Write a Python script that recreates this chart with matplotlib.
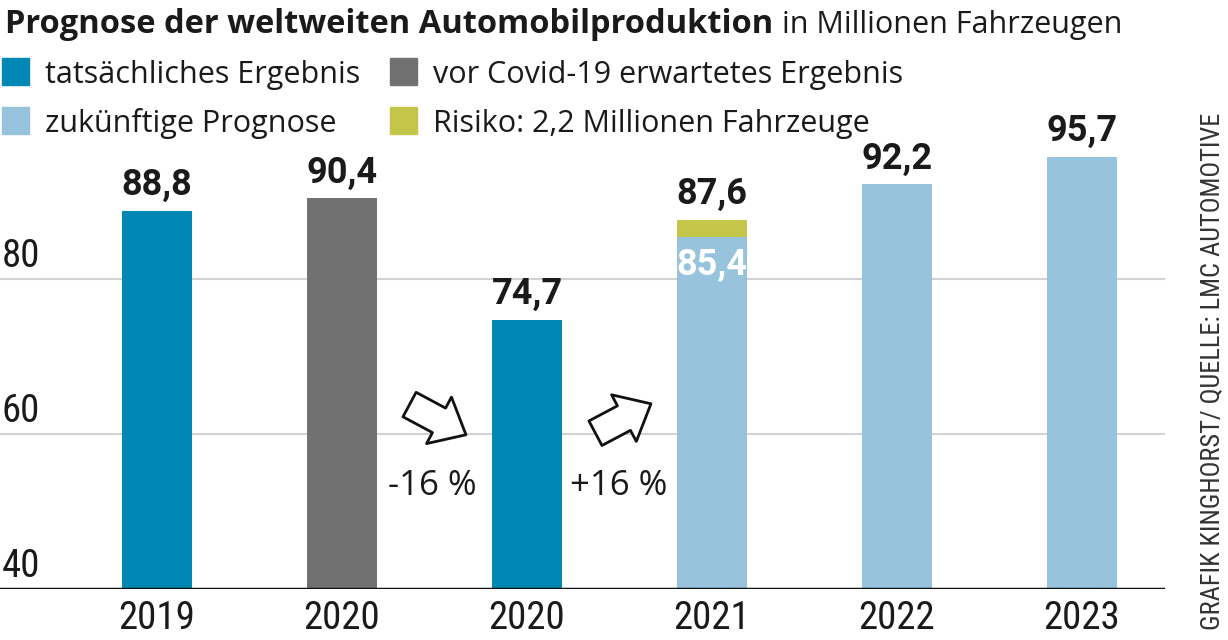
import matplotlib
matplotlib.use('Agg')
import matplotlib.pyplot as plt
from matplotlib import font_manager
from matplotlib.patches import Rectangle, FancyArrowPatch

# pick fonts that are installed
names = {f.name for f in font_manager.fontManager.ttflist}
narrow = 'DejaVu Sans'
for cand in ['Roboto Condensed', 'Liberation Sans Narrow', 'DejaVu Sans Condensed', 'Roboto']:
    if cand in names:
        narrow = cand
        break
wide = 'Open Sans' if 'Open Sans' in names else 'DejaVu Sans'
mid = 'Roboto' if 'Roboto' in names else 'DejaVu Sans'
plt.rcParams['font.family'] = [narrow, 'DejaVu Sans']

# data
years = ['2019', '2020', '2020', '2021', '2022', '2023']
values = [88.8, 90.4, 74.7, 85.4, 92.2, 95.7]
risk = [0, 0, 0, 2.2, 0, 0]
totals = [88.8, 90.4, 74.7, 87.6, 92.2, 95.7]
kinds = ['actual', 'precovid', 'actual', 'forecast', 'forecast', 'forecast']
changes = ['-16 %', '+16 %']

colors = {'actual': '#0088b5', 'precovid': '#717171', 'forecast': '#97c4dc', 'risk': '#c4c64a'}
txt = '#1a1a1a'

fig = plt.figure(figsize=(12.28, 6.40), dpi=100)
ax = fig.add_axes([0, 1 - 589 / 640, 1165 / 1228, 465 / 640])
ax.set_xlim(-157 / 185, (1165 - 157) / 185)
ax.set_ylim(40, 100)

x = list(range(len(years)))
ax.bar(x, [v - 40 for v in values], bottom=40, width=0.378,
       color=[colors[k] for k in kinds], zorder=2)
ax.bar(x, risk, bottom=values, width=0.378, color=colors['risk'], zorder=2)

# grid lines and y labels
for yv in [60, 80]:
    ax.axhline(yv, color='#d2d2d2', lw=1.5, zorder=1)
for yv in [40, 60, 80]:
    ax.annotate(str(yv), (0, yv), xycoords=('axes fraction', 'data'),
                xytext=(1, 8.5), textcoords='offset points',
                ha='left', va='baseline', fontsize=28, color=txt)
ax.axhline(40, color='#111111', lw=2.5, zorder=3)

for s in ax.spines.values():
    s.set_visible(False)
ax.set_yticks([])
ax.set_xticks(x)
ax.set_xticklabels(years, fontsize=28, color=txt)
ax.tick_params(axis='x', length=0, pad=8)

# value labels
for i, t in enumerate(totals):
    ax.annotate(f'{t:.1f}'.replace('.', ','), (i, t), xytext=(0, 11.5),
                textcoords='offset points', ha='center', va='baseline',
                fontsize=26, fontweight='bold', color=txt, family=mid)
ax.annotate('85,4', (3, 85.4), xytext=(0, -7), textcoords='offset points',
            ha='center', va='top', fontsize=26, fontweight='bold', color='white',
            family=mid, zorder=4)

# change arrows
arrows = [((1.365, 63.8), (1.67, 59.9)), ((2.37, 60.1), (2.67, 63.9))]
for (a, b) in arrows:
    ax.add_patch(FancyArrowPatch(a, b, arrowstyle='simple,head_length=22,head_width=38,tail_width=20',
                                 mutation_scale=1, shrinkA=0, shrinkB=0,
                                 fc='white', ec='#111111', lw=2, zorder=5))
ax.text(1.486, 52.1, changes[0], ha='center', va='baseline', fontsize=25, color=txt, family=wide)
ax.text(2.497, 52.1, changes[1], ha='center', va='baseline', fontsize=25, color=txt, family=wide)

# title
t1 = fig.text(5 / 1228, 1 - 33 / 640, 'Prognose der weltweiten Automobilproduktion',
              fontsize=23.5, fontweight='bold', color=txt, va='baseline', family=wide)
fig.canvas.draw()
bb = t1.get_window_extent()
fig.text((bb.x1 + 9) / 1228, 1 - 33 / 640, 'in Millionen Fahrzeugen',
         fontsize=22, color=txt, va='baseline', family=wide)

# legend
legend = [('tatsächliches Ergebnis', colors['actual'], 2, 58),
          ('vor Covid-19 erwartetes Ergebnis', colors['precovid'], 390, 58),
          ('zukünftige Prognose', colors['forecast'], 2, 107),
          ('Risiko: 2,2 Millionen Fahrzeuge', colors['risk'], 390, 107)]
for label, c, lx, ly in legend:
    fig.patches.append(Rectangle((lx / 1228, 1 - (ly + 27) / 640), 27 / 1228, 27 / 640,
                                 transform=fig.transFigure, color=c))
    fig.text((lx + 43) / 1228, 1 - (ly + 25) / 640, label, fontsize=22, color=txt,
             va='baseline', family=wide)

# source
fig.text(1212 / 1228, 1 - 371 / 640, 'GRAFIK KINGHORST/ QUELLE: LMC AUTOMOTIVE',
         rotation=90, ha='center', va='center', fontsize=19, color='#333333')

fig.savefig('out.png', dpi=100)
